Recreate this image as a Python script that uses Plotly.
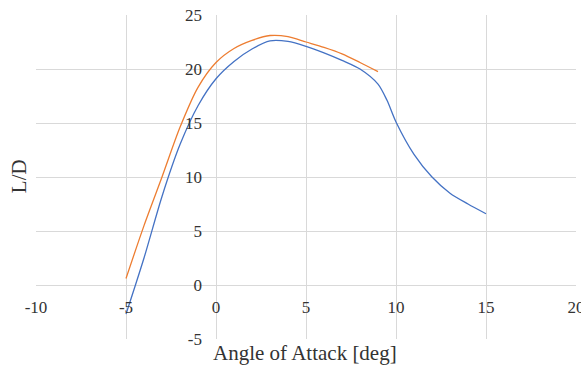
import plotly.graph_objects as go

# Angle of attack [deg] and L/D values
aoa_blue = [-5, -4, -3, -2, -1, 0, 1, 2, 3, 4, 5, 6, 7, 8, 9, 9.5, 10, 11, 12, 13, 14, 15]
ld_blue = [-2.7, 2.5, 8.2, 13.0, 16.6, 19.1, 20.7, 21.85, 22.6, 22.55, 22.1, 21.5, 20.8, 20.0, 18.6, 17.1, 15.1, 12.1, 10.0, 8.5, 7.5, 6.6]

aoa_orange = [-5, -4, -3, -2, -1, 0, 1, 2, 3, 4, 5, 6, 7, 8, 9]
ld_orange = [0.6, 5.5, 10.0, 14.6, 18.3, 20.6, 21.9, 22.65, 23.1, 23.0, 22.5, 22.0, 21.4, 20.6, 19.75]

x_ticks = [-10, -5, 0, 5, 10, 15, 20]
y_ticks = [-5, 0, 5, 10, 15, 20, 25]

FONT = "Liberation Serif"
GRID = "#d9d9d9"
TEXT = "#333333"

fig = go.Figure()
fig.add_trace(go.Scatter(x=aoa_blue, y=ld_blue, mode="lines",
                         line=dict(color="#4472c4", width=1.3, shape="spline", smoothing=0.8),
                         showlegend=False))
fig.add_trace(go.Scatter(x=aoa_orange, y=ld_orange, mode="lines",
                         line=dict(color="#ed7d31", width=1.3, shape="spline", smoothing=0.8),
                         showlegend=False))

fig.update_layout(
    width=581, height=366,
    margin=dict(l=36, r=5, t=15, b=27, autoexpand=False),
    paper_bgcolor="white", plot_bgcolor="white",
    font=dict(family=FONT, color=TEXT),
    xaxis=dict(range=[-10, 20.0001], tickvals=x_ticks, ticktext=[str(v) for v in x_ticks],
               showgrid=True, gridcolor=GRID, gridwidth=1, zeroline=False,
               showline=False, anchor="free", position=1/6, automargin=False,
               tickfont=dict(family=FONT, size=17, color=TEXT),
               ticks="", ticklabelstandoff=10, ticklabeloverflow="allow"),
    yaxis=dict(range=[-5, 25.0001], tickvals=y_ticks, ticktext=[str(v) for v in y_ticks],
               showgrid=True, gridcolor=GRID, gridwidth=1, zeroline=False,
               showline=False, anchor="free", position=1/3, automargin=False,
               tickfont=dict(family=FONT, size=17, color=TEXT),
               ticks="", ticklabelstandoff=14, ticklabeloverflow="allow"),
    annotations=[
        dict(text="Angle of Attack [deg]", xref="paper", yref="paper",
             x=0.498, y=-0.042, xanchor="center", yanchor="middle",
             showarrow=False, font=dict(family=FONT, size=21, color=TEXT)),
        dict(text="L/D", xref="paper", yref="paper",
             x=-0.03, y=0.502, xanchor="center", yanchor="middle", textangle=-90,
             showarrow=False, font=dict(family=FONT, size=21, color=TEXT)),
    ],
)

fig.write_html("out.html")
